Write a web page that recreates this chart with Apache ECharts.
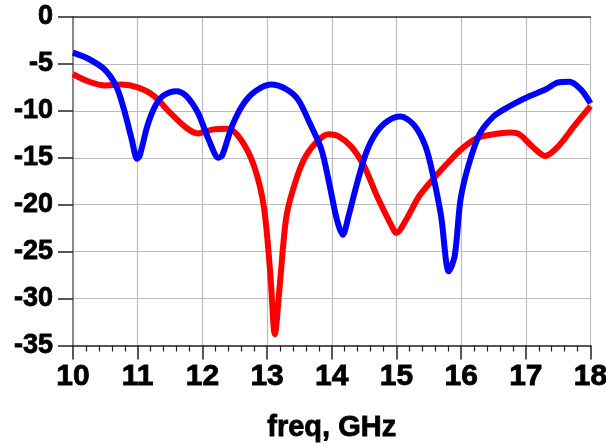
<!DOCTYPE html>
<html>
<head>
<meta charset="utf-8">
<script src="https://cdn.jsdelivr.net/npm/echarts@6/dist/echarts.min.js"></script>
<style>
  html, body { margin: 0; padding: 0; background: #fff; }
  #chart { width: 606px; height: 444px; }
</style>
</head>
<body>
<div id="chart"></div>
<script>
// Frequency sweep (GHz) and the two reflection traces (dB)
const redFreq = [10, 10.25, 10.5, 10.75, 11.0, 11.25, 11.5, 11.75, 11.93, 12.15, 12.4, 12.6, 12.8, 12.95, 13.05, 13.12, 13.2, 13.3, 13.45, 13.6, 13.8, 13.95, 14.1, 14.3, 14.5, 14.7, 14.9, 15.0, 15.15, 15.35, 15.6, 15.8, 16.0, 16.25, 16.5, 16.75, 16.9, 17.1, 17.3, 17.5, 17.75, 18];
const redDb = [-6.1, -6.9, -7.3, -7.2, -7.5, -8.4, -10.2, -11.8, -12.4, -12.0, -11.9, -13.1, -15.9, -20.2, -27.3, -33.8, -28.3, -21.2, -17.3, -14.8, -13.1, -12.5, -12.7, -13.8, -15.9, -19.1, -21.9, -23.0, -21.6, -19.1, -17.0, -15.5, -14.1, -12.9, -12.5, -12.3, -12.5, -13.8, -14.8, -13.8, -11.6, -9.5];

const blueFreq = [10, 10.25, 10.49, 10.67, 10.79, 10.91, 10.99, 11.03, 11.15, 11.27, 11.39, 11.6, 11.75, 11.93, 12.1, 12.25, 12.31, 12.46, 12.64, 12.82, 13.06, 13.3, 13.48, 13.66, 13.84, 13.96, 14.08, 14.17, 14.26, 14.38, 14.53, 14.68, 14.86, 15.06, 15.27, 15.45, 15.57, 15.69, 15.81, 15.9, 15.99, 16.11, 16.29, 16.5, 16.65, 16.83, 17.07, 17.31, 17.49, 17.67, 17.85, 18];
const blueDb = [-3.8, -4.5, -5.6, -7.4, -9.9, -13.1, -15.1, -14.8, -11.6, -9.5, -8.4, -7.9, -8.4, -10.2, -13.1, -15.0, -14.7, -11.6, -9.2, -7.9, -7.2, -7.7, -8.8, -11.3, -14.1, -17.7, -21.6, -23.2, -21.2, -18.0, -14.5, -12.4, -11.1, -10.6, -11.5, -13.8, -17.0, -21.2, -27.1, -25.5, -19.5, -15.9, -12.4, -10.6, -9.9, -9.2, -8.4, -7.7, -7.0, -6.9, -7.7, -9.2];

// Axis ranges
const xMin = 10, xMax = 18, xStep = 1;
const yMin = -35, yMax = 0, yStep = 5;

const pairs = (xs, ys) => xs.map((x, i) => [x, ys[i]]);

const chart = echarts.init(document.getElementById('chart'), null, { renderer: 'canvas' });
const labelFont = 'Liberation Sans, Arial, sans-serif';
const heavyText = (size) => ({
  fontFamily: labelFont, fontWeight: 'bold', fontSize: size, color: '#000',
  textBorderColor: '#000', textBorderWidth: 0.8
});

chart.setOption({
  animation: false,
  backgroundColor: '#ffffff',
  grid: { left: 73, right: 15.5, top: 17, bottom: 98.5, outerBoundsMode: 'none' },
  xAxis: [{
    type: 'value',
    min: xMin, max: xMax, interval: xStep,
    name: 'freq, GHz',
    nameLocation: 'middle',
    nameGap: 68,
    nameTextStyle: heavyText(29),
    axisLine: { show: true, onZero: false, lineStyle: { color: '#555', width: 2 } },
    axisTick: { show: true, length: 14, lineStyle: { color: '#222', width: 1.5 } },
    minorTick: { show: true, splitNumber: 5, length: 6, lineStyle: { color: '#222', width: 1.2 } },
    axisLabel: Object.assign({ margin: 16 }, heavyText(30)),
    splitLine: { show: true, lineStyle: { color: '#bcbcbc', width: 1.2 } }
  }, {
    type: 'value',
    position: 'top',
    min: xMin, max: xMax, interval: xStep,
    axisLine: { show: true, onZero: false, lineStyle: { color: '#333', width: 1.5 } },
    axisTick: { show: false },
    axisLabel: { show: false },
    splitLine: { show: false }
  }],
  yAxis: {
    type: 'value',
    min: yMin, max: yMax, interval: yStep,
    axisLine: { show: true, onZero: false, lineStyle: { color: '#888', width: 2 } },
    axisTick: { show: true, length: 15, lineStyle: { color: '#222', width: 1.5 } },
    axisLabel: Object.assign({ margin: 20 }, heavyText(27)),
    splitLine: { show: true, lineStyle: { color: '#bcbcbc', width: 1.2 } }
  },
  series: [{
    name: 'S11 red',
    type: 'line',
    data: pairs(redFreq, redDb),
    showSymbol: false,
    smooth: 0.3,
    lineStyle: { color: '#ff0000', width: 6 },
    z: 2
  }, {
    name: 'S11 blue',
    type: 'line',
    data: pairs(blueFreq, blueDb),
    showSymbol: false,
    smooth: 0.3,
    lineStyle: { color: '#0000ff', width: 6 },
    z: 3
  }]
});
</script>
</body>
</html>
